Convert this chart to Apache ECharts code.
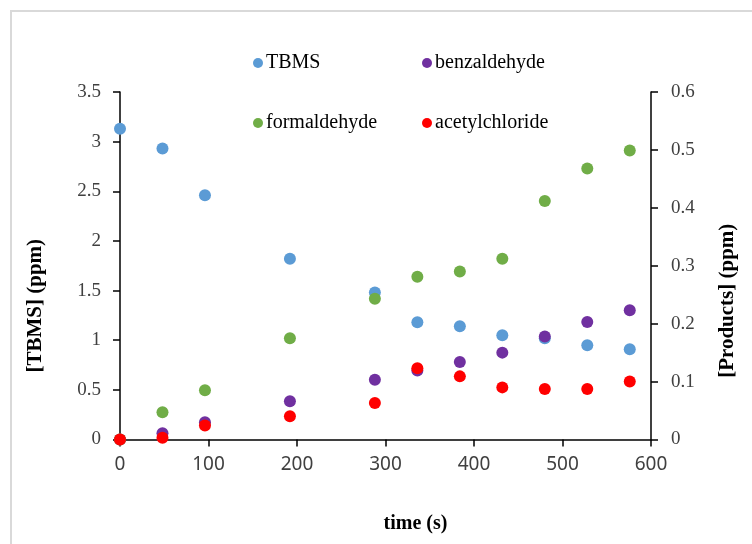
<!DOCTYPE html>
<html>
<head>
<meta charset="utf-8">
<script src="https://cdn.jsdelivr.net/npm/echarts@6/dist/echarts.min.js"></script>
<style>html,body{margin:0;padding:0;background:#fff;}#c{width:752px;height:544px;}</style>
</head>
<body>
<div id="c"></div>
<script>
// Data
const times = [0, 48, 96, 192, 288, 336, 384, 432, 480, 528, 576];
const tbms = [3.13, 2.93, 2.46, 1.82, 1.48, 1.18, 1.14, 1.05, 1.02, 0.95, 0.91];
const benzaldehyde = [0, 0.011, 0.030, 0.066, 0.103, 0.119, 0.134, 0.150, 0.178, 0.203, 0.223];
const formaldehyde = [0, 0.047, 0.085, 0.175, 0.243, 0.281, 0.290, 0.312, 0.412, 0.468, 0.499];
const acetylchloride = [0, 0.003, 0.024, 0.040, 0.063, 0.123, 0.109, 0.090, 0.087, 0.087, 0.100];
const seriesNames = ['TBMS', 'benzaldehyde', 'formaldehyde', 'acetylchloride'];
const colors = ['#5b9bd5', '#7030a0', '#70ad47', '#ff0000'];

const pair = (ys) => times.map((t, i) => [t, ys[i]]);
const serif = '"Liberation Serif", "Times New Roman", serif';
const sans = '"Noto Sans", "Open Sans", sans-serif';

const chart = echarts.init(document.getElementById('c'), null, {renderer: 'canvas'});
const legendPos = [[248, 48], [417, 48], [248, 108], [417, 108]];

chart.setOption({
  animation: false,
  backgroundColor: '#fff',
  color: colors,
  graphic: [{
    type: 'rect', shape: {x: 11, y: 11, width: 800, height: 600},
    style: {fill: 'none', stroke: '#d9d9d9', lineWidth: 2}, silent: true, z: -1
  }],
  grid: {left: 120, right: 101, top: 92, bottom: 104.5, containLabel: false},
  legend: seriesNames.map((n, i) => ({
    data: [n], left: legendPos[i][0], top: legendPos[i][1],
    icon: 'circle', itemWidth: 10, itemHeight: 10, itemGap: 0,
    textStyle: {fontFamily: serif, fontSize: 20, color: '#000', padding: [0, 0, 0, -2]}
  })),
  xAxis: {
    type: 'value', min: 0, max: 600, interval: 100,
    name: 'time (s)', nameLocation: 'middle', nameGap: 74,
    nameTextStyle: {fontFamily: serif, fontSize: 20, fontWeight: 'bold', color: '#000', padding: [0, 0, 0, 60]},
    axisLine: {show: true, lineStyle: {color: '#000', width: 1.5}},
    axisTick: {show: true, inside: false, length: 7, lineStyle: {color: '#000', width: 1.5}},
    axisLabel: {fontFamily: sans, fontSize: 19, color: '#404040', margin: 16},
    splitLine: {show: false}
  },
  yAxis: [{
    type: 'value', min: 0, max: 3.5, interval: 0.5, position: 'left',
    name: '[TBMS] (ppm)', nameLocation: 'middle', nameGap: 74, nameRotate: 90,
    nameTextStyle: {fontFamily: serif, fontSize: 21, fontWeight: 'bold', color: '#000', padding: [0, 0, 0, -80]},
    axisLine: {show: true, lineStyle: {color: '#000', width: 1.5}},
    axisTick: {show: true, inside: false, length: 7, lineStyle: {color: '#000', width: 1.5}},
    axisLabel: {fontFamily: serif, fontSize: 19, color: '#404040', margin: 19},
    splitLine: {show: false}
  }, {
    type: 'value', min: 0, max: 0.6, interval: 0.1, position: 'right',
    name: '[Products] (ppm)', nameLocation: 'middle', nameGap: 66, nameRotate: 90,
    nameTextStyle: {fontFamily: serif, fontSize: 21, fontWeight: 'bold', color: '#000', padding: [0, 0, 0, -70]},
    axisLine: {show: true, lineStyle: {color: '#000', width: 1.5}},
    axisTick: {show: true, inside: false, length: 7, lineStyle: {color: '#000', width: 1.5}},
    axisLabel: {fontFamily: serif, fontSize: 19, color: '#404040', margin: 20},
    splitLine: {show: false}
  }],
  series: [
    {name: 'TBMS', type: 'scatter', yAxisIndex: 0, symbolSize: 12, itemStyle: {opacity: 1}, data: pair(tbms)},
    {name: 'benzaldehyde', type: 'scatter', yAxisIndex: 1, symbolSize: 12, itemStyle: {opacity: 1}, data: pair(benzaldehyde)},
    {name: 'formaldehyde', type: 'scatter', yAxisIndex: 1, symbolSize: 12, itemStyle: {opacity: 1}, data: pair(formaldehyde)},
    {name: 'acetylchloride', type: 'scatter', yAxisIndex: 1, symbolSize: 12, itemStyle: {opacity: 1}, data: pair(acetylchloride)}
  ]
});
</script>
</body>
</html>
